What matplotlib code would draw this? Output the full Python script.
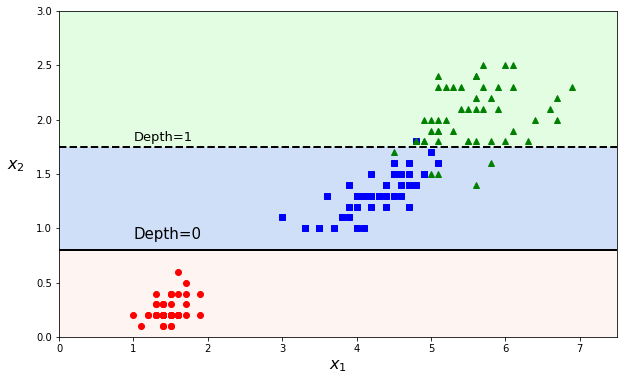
import numpy as np
import matplotlib
matplotlib.use("Agg")
import matplotlib.pyplot as plt
from matplotlib.colors import ListedColormap

# iris petal length / width per class
setosa_len = [1.4, 1.4, 1.3, 1.5, 1.4, 1.7, 1.4, 1.5, 1.4, 1.5, 1.5, 1.6, 1.4, 1.1, 1.2, 1.5, 1.3, 1.4, 1.7, 1.5,
              1.7, 1.5, 1.0, 1.7, 1.9, 1.6, 1.6, 1.5, 1.4, 1.6, 1.6, 1.5, 1.5, 1.4, 1.5, 1.2, 1.3, 1.4, 1.3, 1.5,
              1.3, 1.3, 1.3, 1.6, 1.9, 1.4, 1.6, 1.4, 1.5, 1.4]
setosa_wid = [0.2, 0.2, 0.2, 0.2, 0.2, 0.4, 0.3, 0.2, 0.2, 0.1, 0.2, 0.2, 0.1, 0.1, 0.2, 0.4, 0.4, 0.3, 0.3, 0.3,
              0.2, 0.4, 0.2, 0.5, 0.2, 0.2, 0.4, 0.2, 0.2, 0.2, 0.2, 0.4, 0.1, 0.2, 0.2, 0.2, 0.2, 0.1, 0.2, 0.2,
              0.3, 0.3, 0.2, 0.6, 0.4, 0.3, 0.2, 0.2, 0.2, 0.2]
versi_len = [4.7, 4.5, 4.9, 4.0, 4.6, 4.5, 4.7, 3.3, 4.6, 3.9, 3.5, 4.2, 4.0, 4.7, 3.6, 4.4, 4.5, 4.1, 4.5, 3.9,
             4.8, 4.0, 4.9, 4.7, 4.3, 4.4, 4.8, 5.0, 4.5, 3.5, 3.8, 3.7, 3.9, 5.1, 4.5, 4.5, 4.7, 4.4, 4.1, 4.0,
             4.4, 4.6, 4.0, 3.3, 4.2, 4.2, 4.2, 4.3, 3.0, 4.1]
versi_wid = [1.4, 1.5, 1.5, 1.3, 1.5, 1.3, 1.6, 1.0, 1.3, 1.4, 1.0, 1.5, 1.0, 1.4, 1.3, 1.4, 1.5, 1.0, 1.5, 1.1,
             1.8, 1.3, 1.5, 1.2, 1.3, 1.4, 1.4, 1.7, 1.5, 1.0, 1.1, 1.0, 1.2, 1.6, 1.5, 1.6, 1.5, 1.3, 1.3, 1.3,
             1.2, 1.4, 1.2, 1.0, 1.3, 1.2, 1.3, 1.3, 1.1, 1.3]
virg_len = [6.0, 5.1, 5.9, 5.6, 5.8, 6.6, 4.5, 6.3, 5.8, 6.1, 5.1, 5.3, 5.5, 5.0, 5.1, 5.3, 5.5, 6.7, 6.9, 5.0,
            5.7, 4.9, 6.7, 4.9, 5.7, 6.0, 4.8, 4.9, 5.6, 5.8, 6.1, 6.4, 5.6, 5.1, 5.6, 6.1, 5.6, 5.5, 4.8, 5.4,
            5.6, 5.1, 5.1, 5.9, 5.7, 5.2, 5.0, 5.2, 5.4, 5.1]
virg_wid = [2.5, 1.9, 2.1, 1.8, 2.2, 2.1, 1.7, 1.8, 1.8, 2.5, 2.0, 1.9, 2.1, 2.0, 2.4, 2.3, 1.8, 2.2, 2.3, 1.5,
            2.3, 2.0, 2.0, 1.8, 2.1, 1.8, 1.8, 1.8, 2.1, 1.6, 1.9, 2.0, 2.2, 1.5, 1.4, 2.3, 2.4, 1.8, 1.8, 2.1,
            2.4, 2.3, 1.9, 2.3, 2.5, 2.3, 1.9, 2.0, 2.3, 1.8]

# tree split thresholds on petal width
depth0_split = 0.8
depth1_split = 1.75

region_colors = ['#fef4f2', '#cfdff8', '#e2fde2']

fig = plt.figure(figsize=(624 / 72, 381 / 72), dpi=72)
ax = fig.add_axes([0.0946, 0.1155, 0.8942, 0.8556])

# decision regions
x1s = np.linspace(0, 7.5, 200)
x2s = np.linspace(0, 3, 600)
x1, x2 = np.meshgrid(x1s, x2s)
y_pred = np.where(x2 < depth0_split, 0, np.where(x2 < depth1_split, 1, 2))
ax.contourf(x1, x2, y_pred, levels=[-0.5, 0.5, 1.5, 2.5], cmap=ListedColormap(region_colors))

ax.plot(setosa_len, setosa_wid, "o", color="red")
ax.plot(versi_len, versi_wid, "s", color="blue")
ax.plot(virg_len, virg_wid, "^", color="green")

ax.plot([0, 7.5], [depth0_split, depth0_split], "k-", linewidth=2)
ax.plot([0, 7.5], [depth1_split, depth1_split], "k--", linewidth=2)
ax.text(1.0, 0.9, "Depth=0", fontsize=15)
ax.text(1.0, 1.80, "Depth=1", fontsize=13)

ax.axis([0, 7.5, 0, 3])
ax.set_xlabel("$x_1$", fontsize=16)
ax.set_ylabel("$x_2$", fontsize=16, rotation=0, labelpad=20)

fig.savefig("out.png", dpi=72)
